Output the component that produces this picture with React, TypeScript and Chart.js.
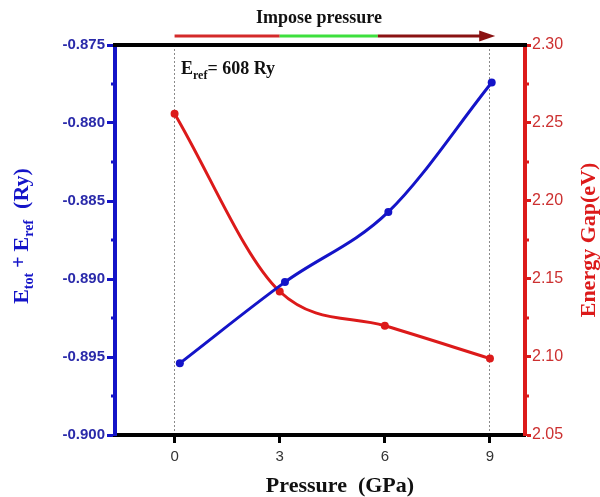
import { useEffect, useRef } from "react";
import { Chart, registerables } from "chart.js";
Chart.register(...registerables);

// ---- data ----
const energyPressure = [0.15, 3.15, 6.1, 9.05]; // GPa (blue markers sit slightly right of the grid)
const totalEnergy = [-0.8954, -0.8902, -0.8857, -0.8774]; // Ry
const gapPressure = [0, 3, 6, 9]; // GPa
const energyGap = [2.256, 2.142, 2.12, 2.099]; // eV
const pressureTicks = [0, 3, 6, 9];
const guideTicks = [0, 9]; // dotted vertical guides
const pressureRange = [-1.7, 10];
const energyRange = [-0.9, -0.875];
const energyStep = 0.0025;
const energyMajor = 0.005;
const gapRange = [2.05, 2.3];
const gapStep = 0.025;
const gapMajor = 0.05;
const arrowStops = [0, 3, 5.8, 9.15]; // pressure values where the arrow colours change

const BLUE = "#1414c8";
const RED = "#dc1a1a";
const SERIF = "'Liberation Serif', 'Times New Roman', serif";
const SANS = "'Liberation Sans', Arial, sans-serif";

const isMajor = (v: number, step: number) =>
  Math.abs(Math.round(v / step) * step - v) < 1e-7;

type Run = { t: string; size: number; dy?: number };

function runsWidth(ctx: CanvasRenderingContext2D, runs: Run[]) {
  let w = 0;
  for (const r of runs) {
    ctx.font = `bold ${r.size}px ${SERIF}`;
    w += ctx.measureText(r.t).width;
  }
  return w;
}

function drawRuns(ctx: CanvasRenderingContext2D, runs: Run[], x: number, y: number) {
  let cx = x;
  ctx.textAlign = "left";
  ctx.textBaseline = "alphabetic";
  for (const r of runs) {
    ctx.font = `bold ${r.size}px ${SERIF}`;
    ctx.fillText(r.t, cx, y + (r.dy || 0));
    cx += ctx.measureText(r.t).width;
  }
}

const decor = {
  id: "decor",
  afterDraw(chart: any) {
    const { ctx, chartArea: a, scales } = chart;
    const xs = scales.x;
    const yl = scales.y;
    const yr = scales.y1;
    ctx.save();

    // top frame line
    ctx.strokeStyle = "#000";
    ctx.lineWidth = 4;
    ctx.beginPath();
    ctx.moveTo(a.left - 2, a.top);
    ctx.lineTo(a.right + 2, a.top);
    ctx.stroke();

    // minor ticks
    ctx.lineWidth = 3;
    ctx.strokeStyle = BLUE;
    for (const t of yl.ticks) {
      if (isMajor(t.value, energyMajor)) continue;
      const py = yl.getPixelForValue(t.value);
      ctx.beginPath();
      ctx.moveTo(a.left, py);
      ctx.lineTo(a.left - 4, py);
      ctx.stroke();
    }
    ctx.strokeStyle = RED;
    for (const t of yr.ticks) {
      if (isMajor(t.value, gapMajor)) continue;
      const py = yr.getPixelForValue(t.value);
      ctx.beginPath();
      ctx.moveTo(a.right, py);
      ctx.lineTo(a.right + 4, py);
      ctx.stroke();
    }

    // arrow "Impose pressure"
    const ay = 36;
    const p = arrowStops.map((v) => xs.getPixelForValue(v));
    const segCols = ["#d42a2a", "#3ee03e", "#8a1212"];
    ctx.lineWidth = 3;
    for (let i = 0; i < 3; i++) {
      ctx.strokeStyle = segCols[i];
      ctx.beginPath();
      ctx.moveTo(p[i], ay);
      ctx.lineTo(i === 2 ? p[3] - 10 : p[i + 1], ay);
      ctx.stroke();
    }
    ctx.fillStyle = "#8a1212";
    ctx.beginPath();
    ctx.moveTo(p[3], ay);
    ctx.lineTo(p[3] - 16, ay - 5.5);
    ctx.lineTo(p[3] - 16, ay + 5.5);
    ctx.closePath();
    ctx.fill();

    ctx.fillStyle = "#111";
    ctx.font = `bold 18px ${SERIF}`;
    ctx.textAlign = "center";
    ctx.textBaseline = "middle";
    ctx.fillText("Impose pressure", 319, 18);

    // E_ref annotation
    ctx.fillStyle = "#111";
    drawRuns(
      ctx,
      [
        { t: "E", size: 18 },
        { t: "ref", size: 12, dy: 5 },
        { t: "= 608 Ry", size: 18 },
      ],
      181,
      74
    );

    // x title
    ctx.fillStyle = "#111";
    ctx.font = `bold 22px ${SERIF}`;
    ctx.textAlign = "center";
    ctx.textBaseline = "middle";
    ctx.fillText("Pressure  (GPa)", 340, 486);

    // left title
    const lRuns: Run[] = [
      { t: "E", size: 22 },
      { t: "tot", size: 14, dy: 5 },
      { t: " + ", size: 20, dy: -3 },
      { t: "E", size: 22 },
      { t: "ref", size: 14, dy: 5 },
      { t: "  (Ry)", size: 22 },
    ];
    ctx.save();
    ctx.translate(21, 236);
    ctx.rotate(-Math.PI / 2);
    ctx.fillStyle = BLUE;
    drawRuns(ctx, lRuns, -runsWidth(ctx, lRuns) / 2, 7);
    ctx.restore();

    // right title
    ctx.save();
    ctx.translate(589, 240);
    ctx.rotate(-Math.PI / 2);
    ctx.fillStyle = RED;
    ctx.font = `bold 22px ${SERIF}`;
    ctx.textAlign = "center";
    ctx.textBaseline = "middle";
    ctx.fillText("Energy Gap(eV)", 0, 0);
    ctx.restore();

    ctx.restore();
  },
};

export default function App() {
  const ref = useRef<HTMLCanvasElement | null>(null);

  useEffect(() => {
    if (!ref.current) return;
    const chart = new Chart(ref.current, {
      type: "line",
      data: {
        datasets: [
          {
            label: "Etot + Eref",
            data: energyPressure.map((x, i) => ({ x, y: totalEnergy[i] })),
            yAxisID: "y",
            borderColor: BLUE,
            backgroundColor: BLUE,
            borderWidth: 3,
            pointRadius: 4,
            pointBorderWidth: 0,
            cubicInterpolationMode: "monotone",
            clip: false as any,
          },
          {
            label: "Energy Gap",
            data: gapPressure.map((x, i) => ({ x, y: energyGap[i] })),
            yAxisID: "y1",
            borderColor: RED,
            backgroundColor: RED,
            borderWidth: 3,
            pointRadius: 4,
            pointBorderWidth: 0,
            cubicInterpolationMode: "monotone",
            clip: false as any,
          },
        ],
      },
      options: {
        animation: false,
        responsive: false,
        layout: { padding: { top: 45, left: 0, right: 0, bottom: 0 } },
        plugins: { legend: { display: false }, tooltip: { enabled: false } },
        scales: {
          x: {
            type: "linear",
            min: pressureRange[0],
            max: pressureRange[1],
            afterBuildTicks: (s: any) => {
              s.ticks = pressureTicks.map((v) => ({ value: v }));
            },
            afterFit: (s: any) => {
              s.height = 62;
            },
            grid: {
              drawOnChartArea: true,
              color: (c: any) =>
                c.tick && guideTicks.includes(c.tick.value) ? "#8a8a8a" : "transparent",
              lineWidth: 1,
              tickColor: "#000",
              tickWidth: 3,
              tickLength: 8,
            },
            border: { color: "#000", width: 4, dash: [2, 2] },
            ticks: {
              color: "#333",
              font: { family: SANS, size: 15 },
              padding: 5,
              autoSkip: false,
              maxRotation: 0,
            },
          },
          y: {
            type: "linear",
            position: "left",
            min: energyRange[0],
            max: energyRange[1],
            afterFit: (s: any) => {
              s.width = 115;
            },
            grid: {
              drawOnChartArea: false,
              tickColor: (c: any) =>
                c.tick && isMajor(c.tick.value, energyMajor) ? BLUE : "transparent",
              tickWidth: 3,
              tickLength: 8,
            },
            border: { color: BLUE, width: 4 },
            ticks: {
              stepSize: energyStep,
              autoSkip: false,
              color: "#2a2aaa",
              font: { family: SANS, size: 15, weight: "bold" },
              padding: 2,
              callback: (v: any) => (isMajor(Number(v), energyMajor) ? Number(v).toFixed(3) : ""),
            },
          },
          y1: {
            type: "linear",
            position: "right",
            min: gapRange[0],
            max: gapRange[1],
            afterFit: (s: any) => {
              s.width = 75;
            },
            grid: {
              drawOnChartArea: false,
              tickColor: (c: any) =>
                c.tick && isMajor(c.tick.value, gapMajor) ? RED : "transparent",
              tickWidth: 3,
              tickLength: 6,
            },
            border: { color: RED, width: 4 },
            ticks: {
              stepSize: gapStep,
              autoSkip: false,
              color: "#cc3030",
              font: { family: SANS, size: 16 },
              padding: 1,
              callback: (v: any) => (isMajor(Number(v), gapMajor) ? Number(v).toFixed(2) : ""),
            },
          },
        },
      } as any,
      plugins: [decor],
    });
    return () => chart.destroy();
  }, []);

  return (
    <div style={{ position: "absolute", left: 0, top: 0, width: 600, height: 497, background: "#fff" }}>
      <canvas ref={ref} width={600} height={497} style={{ display: "block" }} />
    </div>
  );
}
